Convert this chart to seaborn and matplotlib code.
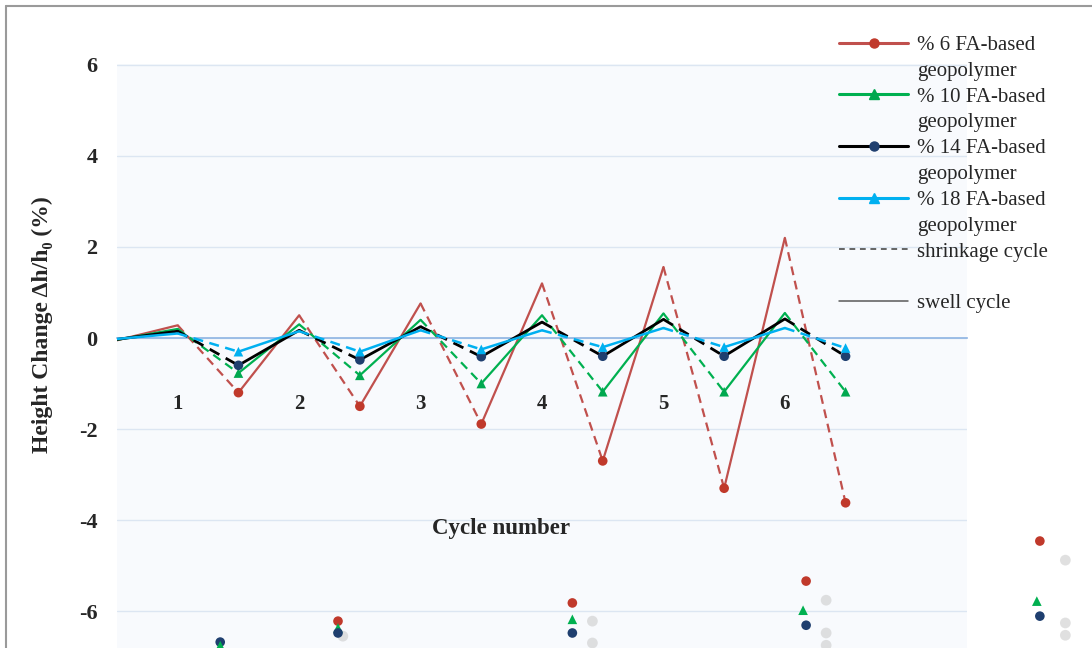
import numpy as np
import pandas as pd
import matplotlib
matplotlib.use("Agg")
import matplotlib.pyplot as plt
import matplotlib.patheffects as pe
from matplotlib.lines import Line2D
import seaborn as sns

# Height change (%) at each half-cycle step (even index = end of shrinkage, odd = end of swell)
steps = list(range(13))
fa6 = [-0.05, 0.28, -1.20, 0.50, -1.50, 0.76, -1.89, 1.20, -2.70, 1.56, -3.30, 2.20, -3.62]
fa10 = [-0.04, 0.20, -0.77, 0.30, -0.82, 0.40, -1.00, 0.50, -1.18, 0.54, -1.18, 0.55, -1.18]
fa14 = [-0.03, 0.15, -0.60, 0.17, -0.48, 0.25, -0.41, 0.35, -0.40, 0.41, -0.40, 0.42, -0.40]
fa18 = [-0.02, 0.10, -0.30, 0.15, -0.30, 0.17, -0.25, 0.17, -0.20, 0.22, -0.20, 0.22, -0.22]

series_first = ["% 6 FA-based", "% 10 FA-based", "% 14 FA-based", "% 18 FA-based"]
series_second = "geopolymer"
cycle_labels = ["1", "2", "3", "4", "5", "6"]

# Points from the neighbouring panel that spill into this figure
lower_x = [1.70, 1.70, 3.64, 3.64, 3.64, 7.50, 7.50, 7.50, 11.35, 11.30, 11.35, 15.20, 15.15, 15.20]
lower_y = [-6.68, -6.76, -6.22, -6.37, -6.48, -5.82, -6.18, -6.48, -5.34, -5.98, -6.31, -4.46, -5.78, -6.11]
lower_kind = ["b", "a", "r", "g", "b", "r", "g", "b", "r", "g", "b", "r", "g", "b"]
ghost_x = [3.72, 7.83, 7.83, 11.68, 11.68, 11.68, 15.62, 15.62, 15.62]
ghost_y = [-6.55, -6.22, -6.70, -5.76, -6.48, -6.75, -4.88, -6.26, -6.53]

line_colors = ["#c0504d", "#00b050", "#000000", "#00b0f0"]
marker_colors = ["#c0392b", "#00a84f", "#1f3f6f", "#00b0f0"]
markers = ["o", "^", "o", "^"]
widths = [1.6, 1.6, 2.0, 1.8]

serif = ["Liberation Serif", "DejaVu Serif"]
sns.set_style("white")
plt.rcParams["font.family"] = serif

fig = plt.figure(figsize=(10.92, 6.48), dpi=100)
ax = fig.add_axes([117 / 1092, 0.0, 850 / 1092, 1 - 64 / 648])
ax.set_facecolor("#f8fafd")

shadow = [pe.SimplePatchShadow(offset=(1.2, -1.5), shadow_rgbFace="#000000", alpha=0.12), pe.Normal()]

for vals, lc, mc, mk, lw in zip([fa6, fa10, fa14, fa18], line_colors, marker_colors, markers, widths):
    rows = []
    for i in range(len(vals) - 1):
        phase = "swell" if i % 2 == 0 else "shrinkage"
        rows.append({"seg": i, "x": steps[i], "y": vals[i], "phase": phase})
        rows.append({"seg": i, "x": steps[i + 1], "y": vals[i + 1], "phase": phase})
    df = pd.DataFrame(rows)
    sw = df[df.phase == "swell"]
    sh = df[df.phase == "shrinkage"]
    sns.lineplot(data=sw, x="x", y="y", units="seg", estimator=None, color=lc,
                 lw=lw, ax=ax, legend=False, path_effects=shadow, zorder=3)
    sns.lineplot(data=sh, x="x", y="y", units="seg", estimator=None, color=lc,
                 lw=lw, ax=ax, legend=False, dashes=False, linestyle=(0, (4, 2.6)),
                 path_effects=shadow, zorder=3)
    troughs = pd.DataFrame({"x": steps[2::2], "y": vals[2::2]})
    sns.scatterplot(data=troughs, x="x", y="y", marker=mk, color=mc, s=48,
                    edgecolor="none", ax=ax, zorder=4, legend=False)

# stray points from the adjacent panel
kind_style = {"r": ("o", "#c0392b"), "g": ("^", "#00b050"), "b": ("o", "#1f3f6f"), "a": ("^", "#00b050")}
for kx, ky, kk in zip(lower_x, lower_y, lower_kind):
    m, c = kind_style[kk]
    ax.scatter([kx], [ky], marker=m, color=c, s=48, edgecolor="none", clip_on=False, zorder=4)
ax.scatter(ghost_x, ghost_y, marker="o", color="#c8c8c8", s=60, edgecolor="none",
           alpha=0.55, clip_on=False, zorder=2)

ax.set_xlim(0, 14)
ax.set_ylim(-6.81, 6.02)
ax.set_yticks([-6, -4, -2, 0, 2, 4, 6])
ax.set_yticklabels(["-6", "-4", "-2", "0", "2", "4", "6"], fontweight="bold", fontsize=16)
ax.tick_params(axis="y", length=0, pad=14)
ax.set_xticks(range(15))
ax.set_xticklabels([])
ax.tick_params(axis="x", direction="in", length=5, color="#8eb4e3", width=1)
ax.yaxis.grid(True, color="#dce6f2", lw=1)
ax.set_axisbelow(True)
for s in ["top", "right", "left"]:
    ax.spines[s].set_visible(False)
ax.spines["bottom"].set_position(("data", 0))
ax.spines["bottom"].set_color("#8eb4e3")
ax.spines["bottom"].set_linewidth(1.2)
ax.set_xlabel("")
ax.set_ylabel("")

for k, lab in enumerate(cycle_labels):
    ax.text(2 * k + 1, -1.45, lab, ha="center", va="center", fontsize=15, fontweight="bold")
ax.text(6.33, -4.18, "Cycle number", ha="center", va="center", fontsize=16.5, fontweight="bold")

fig.text(42 / 1092, 1 - 325 / 648, "Height Change Δh/h₀ (%)", rotation=90, ha="center",
         va="center", fontsize=17, fontweight="bold", family=serif)

# legend: each two-line series label is split over two rows so the key sits by the first line
blank = Line2D([], [], alpha=0)
handles, labels = [], []
for name, lc, mc, mk in zip(series_first, line_colors, marker_colors, markers):
    handles.append(Line2D([0], [0], color=lc, lw=2.2, marker=mk, markersize=6.5,
                          markerfacecolor=mc, markeredgecolor=mc))
    labels.append(name)
    handles.append(blank)
    labels.append(series_second)
handles += [Line2D([0], [0], color="#595959", lw=1.3, linestyle=(0, (3.2, 2.6))), blank,
            Line2D([0], [0], color="#595959", lw=1.1)]
labels += ["shrinkage cycle", " ", "swell cycle"]
leg = fig.legend(handles, labels, loc="upper left", bbox_to_anchor=(829 / 1092, 1 - 25 / 648),
                 frameon=False, fontsize=15, handlelength=3.3, handletextpad=0.42,
                 labelspacing=0.3, borderpad=0)

# figure frame
fig.add_artist(Line2D([6 / 1092, 6 / 1092], [0, 1 - 6 / 648], color="#9a9a9a", lw=1.5))
fig.add_artist(Line2D([6 / 1092, 1], [1 - 6 / 648, 1 - 6 / 648], color="#9a9a9a", lw=1.5))

fig.savefig("out.png", dpi=100, facecolor="white")
